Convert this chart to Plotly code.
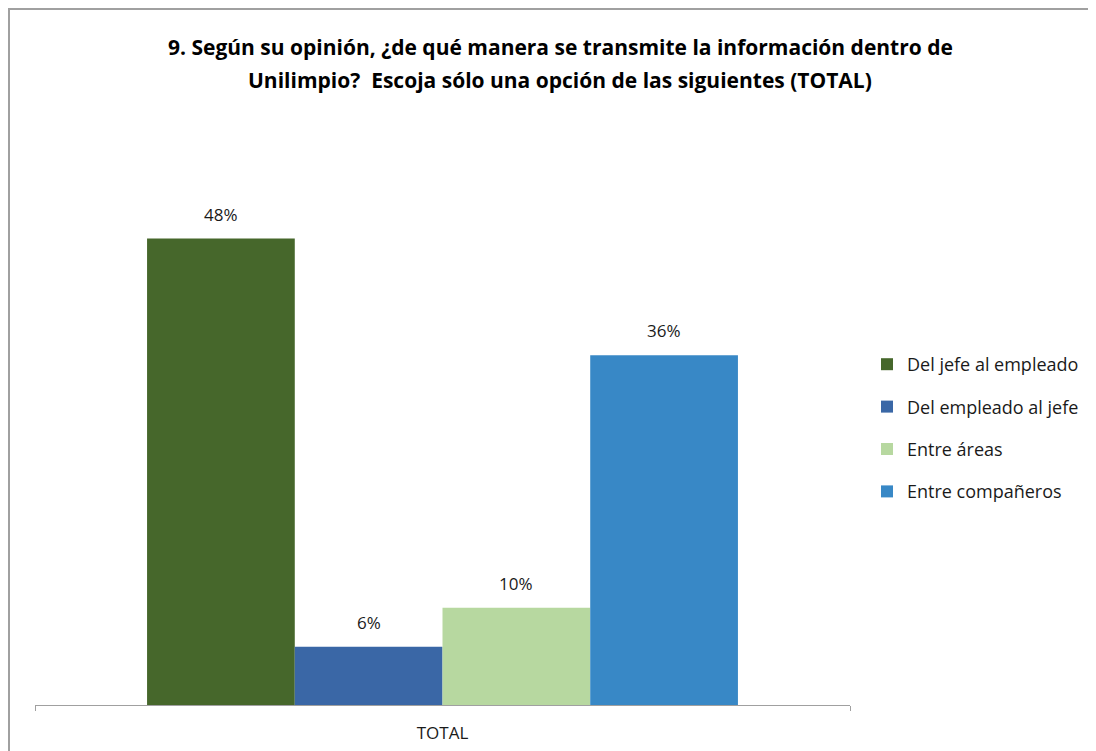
import plotly.graph_objects as go

categories = ["TOTAL"]
series_names = ["Del jefe al empleado", "Del empleado al jefe", "Entre áreas", "Entre compañeros"]
series_values = [48, 6, 10, 36]
series_colors = ["#46672b", "#3a67a6", "#b7d8a0", "#3888c6"]
title_lines = [
    "9. Según su opinión, ¿de qué manera se transmite la información dentro de",
    "Unilimpio?  Escoja sólo una opción de las siguientes (TOTAL)",
]

# page body has an 8px margin: figure origin is at page (8, 8)
OFF = 8
W, H = 1096 - OFF, 751 - OFF
FONT = "Open Sans, sans-serif"
BARGAP = 0.275
X0, X1 = 35 - OFF, 850 - OFF
Y_BASE, Y_TOP = 705 - OFF, 122 - OFF

fig = go.Figure()
for i, (name, val, col) in enumerate(zip(series_names, series_values, series_colors)):
    fig.add_trace(go.Bar(
        x=categories, y=[val], name=name, marker_color=col, marker_line_width=0,
        legendgroup=f"g{i}",
    ))

# value labels above each bar
plot_w = X1 - X0
bar_w = plot_w * (1 - BARGAP) / len(series_values)
annotations = []
for i, val in enumerate(series_values):
    annotations.append(dict(
        x=categories[0], y=val, xref="x", yref="y",
        xshift=(i - (len(series_values) - 1) / 2) * bar_w,
        yshift=11, yanchor="bottom", showarrow=False,
        text=f"{val}%", font=dict(size=17, family=FONT, color="#1a1a1a"),
    ))

# chart title (two lines)
for line, ypix in zip(title_lines, [47, 80]):
    annotations.append(dict(
        x=(560 - OFF) / W, y=1 - (ypix - OFF) / H, xref="paper", yref="paper",
        xanchor="center", yanchor="middle", showarrow=False, text=f"<b>{line}</b>",
        font=dict(family=FONT, size=21, color="#000000"),
    ))

fig.update_layout(
    width=W, height=H,
    margin=dict(l=0, r=0, t=0, b=0),
    paper_bgcolor="white", plot_bgcolor="white",
    barmode="group", bargap=BARGAP, bargroupgap=0,
    font=dict(family=FONT, size=17, color="#1a1a1a"),
    xaxis=dict(
        domain=[X0 / W, X1 / W], showline=True, linecolor="#a0a0a0", linewidth=1,
        ticks="outside", tickson="boundaries", ticklen=5, tickcolor="#a0a0a0",
        ticklabelstandoff=13,
        tickfont=dict(size=17, family=FONT, color="#1a1a1a"), showgrid=False,
    ),
    yaxis=dict(
        domain=[(H - Y_BASE) / H, (H - Y_TOP) / H], range=[0, 60], visible=False, showgrid=False,
    ),
    legend=dict(
        x=(867 - OFF) / W, xanchor="left", y=1 - (346 - OFF) / H, yanchor="top",
        font=dict(size=18, family=FONT, color="#1a1a1a"),
        tracegroupgap=16, itemwidth=30, bgcolor="rgba(0,0,0,0)",
    ),
    annotations=annotations,
    shapes=[dict(
        type="rect", xref="paper", yref="paper",
        x0=1 / W, x1=1.05, y0=-0.05, y1=1 - 1 / H,
        line=dict(color="#a0a0a0", width=2), fillcolor="rgba(0,0,0,0)", layer="below",
    )],
)

fig.write_html("out.html")
